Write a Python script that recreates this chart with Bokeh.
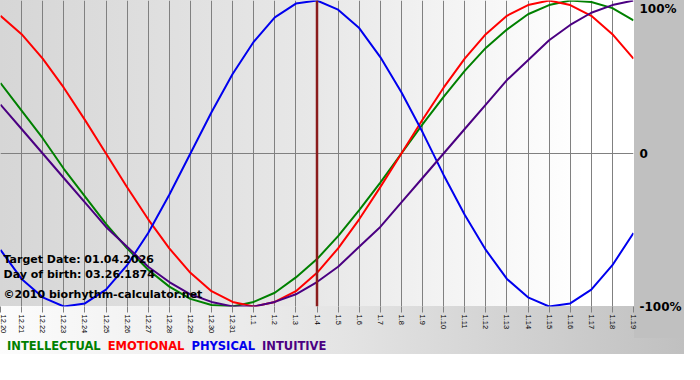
import math
from bokeh.plotting import figure
from bokeh.models import FixedTicker, Span, Label, Range1d, Div
from bokeh.layouts import column
from bokeh.embed import file_html
from bokeh.resources import INLINE

# ---- data ----
days = ["12.20", "12.21", "12.22", "12.23", "12.24", "12.25", "12.26", "12.27",
        "12.28", "12.29", "12.30", "12.31", "1.1", "1.2", "1.3", "1.4", "1.5",
        "1.6", "1.7", "1.8", "1.9", "1.10", "1.11", "1.12", "1.13", "1.14",
        "1.15", "1.16", "1.17", "1.18", "1.19"]
target_day = "1.4"

intellectual = [46, 28, 10, -10, -28, -46, -62, -76, -87, -95, -99, -100, -97, -91,
                -81, -69, -54, -37, -19, 0, 19, 37, 54, 69, 81, 91, 97, 100, 99, 95, 87]
emotional = [90, 78, 62, 43, 22, 0, -22, -43, -62, -78, -90, -97, -100, -97, -90,
             -78, -62, -43, -22, 0, 22, 43, 62, 78, 90, 97, 100, 97, 90, 78, 62]
physical = [-63, -82, -94, -100, -98, -89, -73, -52, -27, 0, 27, 52, 73, 89, 98,
            100, 94, 82, 63, 40, 14, -14, -40, -63, -82, -94, -100, -98, -89, -73, -52]
intuitive = [32, 16, 0, -16, -32, -48, -61, -74, -84, -92, -97, -100, -100, -97, -92,
             -84, -74, -61, -48, -32, -16, 0, 16, 32, 48, 61, 74, 84, 92, 97, 100]

series_names = ["INTELLECTUAL", "EMOTIONAL", "PHYSICAL", "INTUITIVE"]
series_values = [intellectual, emotional, physical, intuitive]
series_colors = ["#008000", "#ff0000", "#0000ee", "#4b0082"]

y_ticks = [-100, 0, 100]
y_tick_labels = ["-100%", "0", "100%"]

info_lines = ["Target Date: 01.04.2026", "Day of birth: 03.26.1874",
              "\u00a92010 biorhythm-calculator.net"]

# ---- layout sizes ----
W = 684
RB, BB = 50, 32
FH = 306
H = FH + BB
FW = W - RB
LEG_H = 26
BAND = 10

xs = list(range(len(days)))
p = figure(width=W, height=H, x_range=Range1d(xs[0], xs[-1]),
           y_range=Range1d(y_ticks[0], y_ticks[-1]),
           output_backend="svg", toolbar_location=None,
           y_axis_location="right",
           min_border_left=0, min_border_top=0,
           min_border_right=RB, min_border_bottom=BB)

p.background_fill_color = None
p.border_fill_color = None
p.outline_line_color = None
bottom_grad = "linear-gradient(to right, #fcfcfc, #e4e4e4 50%, #c0c0c0)"
p.styles = {
    "background": (
        f"linear-gradient(to right, #d6d6d6, #e8e8e8 50%, #ffffff 92%) 0 0 / {FW}px {FH}px no-repeat, "
        f"linear-gradient(#c0c0c0, #c0c0c0) {FW}px 0 / {RB}px 100% no-repeat, "
        f"{bottom_grad} 0 0 / 100% 100% no-repeat"
    )
}

# x axis
p.xaxis.ticker = FixedTicker(ticks=xs)
p.xaxis.major_label_overrides = {i: d for i, d in zip(xs, days)}
p.xaxis.major_label_orientation = -math.pi / 2
p.xaxis.major_label_text_font = "Liberation Sans"
p.xaxis.major_label_text_font_size = "7.5px"
p.xaxis.major_label_text_color = "black"
p.xaxis.major_label_standoff = 2
p.xaxis.axis_line_color = None
p.xaxis.major_tick_line_color = "#808080"
p.xaxis.major_tick_out = 6
p.xaxis.major_tick_in = 0
p.xaxis.minor_tick_line_color = None

# y axis (right); top label sits just below the 100% line as in the reference
px_per_unit = FH / (y_ticks[-1] - y_ticks[0])
label_pos = [y_ticks[0], y_ticks[1], y_ticks[2] - 8 / px_per_unit]
p.yaxis.ticker = FixedTicker(ticks=label_pos)
p.yaxis.major_label_overrides = {t: l for t, l in zip(label_pos, y_tick_labels)}
p.yaxis.major_label_text_font = "DejaVu Sans"
p.yaxis.major_label_text_font_style = "bold"
p.yaxis.major_label_text_font_size = "12px"
p.yaxis.major_label_text_color = "black"
p.yaxis.major_label_standoff = 6
p.yaxis.axis_line_color = None
p.yaxis.major_tick_line_color = None
p.yaxis.major_tick_out = 0
p.yaxis.major_tick_in = 0
p.yaxis.minor_tick_line_color = None

# grids
p.xgrid.grid_line_color = "#808080"
p.xgrid.grid_line_width = 1
p.ygrid.ticker = FixedTicker(ticks=[y_ticks[1]])
p.ygrid.grid_line_color = "#808080"
p.ygrid.grid_line_width = 1

# target date marker
p.add_layout(Span(location=days.index(target_day), dimension="height",
                  line_color="#8a1c1c", line_width=2.5))

# curves
for vals, col in zip(series_values, series_colors):
    p.line(xs, vals, line_color=col, line_width=2, line_join="round")

# info texts
for txt, yv in zip(info_lines, [-69, -79, -92]):
    p.add_layout(Label(x=xs[0], y=yv, x_offset=3, text=txt,
                       text_font="DejaVu Sans", text_font_style="bold",
                       text_font_size="11px", text_color="black",
                       text_baseline="middle", text_align="left"))

# legend row (coloured texts)
spans = "".join(
    f'<span style="color:{c};margin-right:7px">{n}</span>'
    for n, c in zip(series_names, series_colors)
)
legend_html = (
    '<div style="font-family:\'DejaVu Sans\';font-weight:bold;font-size:11.5px;'
    f'line-height:14px;padding:0 0 0 7px;white-space:nowrap">{spans}</div>'
)
legend = Div(text=legend_html, width=W, height=LEG_H, margin=0,
             styles={"background": (
                 f"linear-gradient(#ffffff, #ffffff) 0 {LEG_H - BAND}px / 100% {BAND}px no-repeat, "
                 f"{bottom_grad} 0 0 / 100% 100% no-repeat")})

layout = column(p, legend, spacing=0)

open("out.html", "w").write(file_html(layout, INLINE))
